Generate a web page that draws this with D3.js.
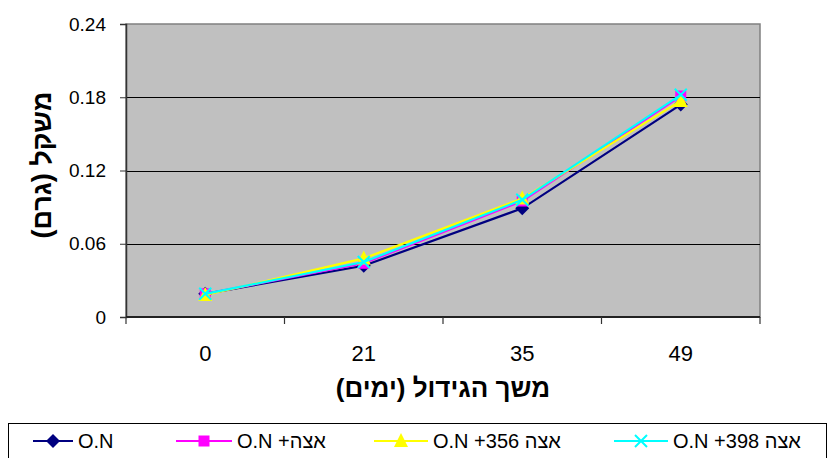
<!DOCTYPE html>
<html>
<head>
<meta charset="utf-8">
<script src="https://cdn.jsdelivr.net/npm/d3@7/dist/d3.min.js"></script>
<style>
  html, body { margin: 0; padding: 0; background: #fff; }
  svg { display: block; font-family: "Liberation Sans", Arial, sans-serif; }
</style>
</head>
<body>
<svg id="chart" width="829" height="458"></svg>
<script>
// Growth period (days) and weight (grams) per treatment
const days = ["0", "21", "35", "49"];
const seriesNames = ["O.N", "O.N +אצה", "O.N +356 אצה", "O.N +398 אצה"];
const seriesColors = ["#000080", "#FF00FF", "#FFFF00", "#00FFFF"];
const seriesMarkers = ["diamond", "square", "triangle", "cross"];
const valuesON = [0.019, 0.042, 0.089, 0.174];
const valuesSeaweed = [0.019, 0.044, 0.095, 0.181];
const valuesSeaweed356 = [0.018, 0.048, 0.097, 0.177];
const valuesSeaweed398 = [0.019, 0.045, 0.096, 0.182];
const yTicks = [0, 0.06, 0.12, 0.18, 0.24];
const yTitle = "משקל (גרם)";
const xTitle = "משך הגידול (ימים)";

const seriesValues = [valuesON, valuesSeaweed, valuesSeaweed356, valuesSeaweed398];

const svg = d3.select("#chart");
const plot = { left: 126, top: 24, right: 760, bottom: 317 };

const x = d3.scaleBand().domain(days).range([plot.left, plot.right]);
const y = d3.scaleLinear().domain([0, 0.24]).range([plot.bottom, plot.top]);

// Plot area
svg.append("rect")
  .attr("x", plot.left).attr("y", plot.top)
  .attr("width", plot.right - plot.left).attr("height", plot.bottom - plot.top)
  .attr("fill", "#C0C0C0").attr("stroke", "#808080").attr("stroke-width", 1.5);

// Horizontal gridlines
svg.append("g").selectAll("line")
  .data(yTicks.filter(t => t > 0 && t < 0.24))
  .join("line")
  .attr("x1", plot.left).attr("x2", plot.right)
  .attr("y1", d => Math.round(y(d)) + 0.5).attr("y2", d => Math.round(y(d)) + 0.5)
  .attr("stroke", "#000").attr("stroke-width", 1.2);

// Y axis
const yAxis = d3.axisLeft(y).tickValues(yTicks).tickSize(6).tickPadding(14)
  .tickFormat(d => d === 0 ? "0" : d3.format(".2f")(d));
const yg = svg.append("g").attr("transform", `translate(${plot.left},0)`).call(yAxis);
yg.attr("font-size", null).attr("font-family", null);
yg.select(".domain").attr("stroke", "#333").attr("stroke-width", 1.5);
yg.selectAll(".tick line").attr("stroke", "#333");
yg.selectAll(".tick text").attr("fill", "#000")
  .style("font-size", "19px")
  .style("font-family", "'Liberation Sans', Arial, sans-serif");

// X axis: ticks sit between categories
const xg = svg.append("g").attr("transform", `translate(0,${plot.bottom})`);
xg.append("line")
  .attr("x1", plot.left).attr("x2", plot.right)
  .attr("y1", 0).attr("y2", 0)
  .attr("stroke", "#222").attr("stroke-width", 2);
const boundaries = days.map(d => x(d)).concat([x(days[days.length - 1]) + x.bandwidth()]);
xg.selectAll("line.tk").data(boundaries).join("line").attr("class", "tk")
  .attr("x1", d => d).attr("x2", d => d).attr("y1", 0).attr("y2", 7)
  .attr("stroke", "#333").attr("stroke-width", 1.2);
xg.selectAll("text").data(days).join("text")
  .attr("x", d => x(d) + x.bandwidth() / 2)
  .attr("y", 44)
  .attr("text-anchor", "middle")
  .style("font-size", "22px")
  .text(d => d);

// Axis titles
svg.append("text")
  .attr("x", 443).attr("y", 397)
  .attr("text-anchor", "middle")
  .attr("direction", "rtl")
  .style("font-size", "26px").attr("font-weight", "bold")
  .text(xTitle);

svg.append("text")
  .attr("transform", "translate(51,165) rotate(-90)")
  .attr("text-anchor", "middle")
  .attr("direction", "rtl")
  .style("font-size", "27px").attr("font-weight", "bold")
  .text(yTitle);

// Marker drawing helper
function drawMarker(g, type, color, cx, cy) {
  if (type === "diamond") {
    g.append("path").attr("d", `M${cx},${cy - 7}L${cx + 7},${cy}L${cx},${cy + 7}L${cx - 7},${cy}Z`)
      .attr("fill", color);
  } else if (type === "square") {
    g.append("rect").attr("x", cx - 5.5).attr("y", cy - 5.5).attr("width", 11).attr("height", 11)
      .attr("fill", color);
  } else if (type === "triangle") {
    g.append("path").attr("d", `M${cx},${cy - 8}L${cx + 7},${cy + 6}L${cx - 7},${cy + 6}Z`)
      .attr("fill", color);
  } else {
    g.append("path").attr("d", `M${cx - 6},${cy - 6}L${cx + 6},${cy + 6}M${cx + 6},${cy - 6}L${cx - 6},${cy + 6}`)
      .attr("stroke", color).attr("stroke-width", 2).attr("fill", "none");
  }
}

// Series lines and markers
const line = d3.line()
  .x((d, i) => x(days[i]) + x.bandwidth() / 2)
  .y(d => y(d));

seriesValues.forEach((vals, si) => {
  const g = svg.append("g");
  g.append("path").datum(vals)
    .attr("d", line)
    .attr("fill", "none")
    .attr("stroke", seriesColors[si])
    .attr("stroke-width", 2.2);
  vals.forEach((v, i) => {
    drawMarker(g, seriesMarkers[si], seriesColors[si], x(days[i]) + x.bandwidth() / 2, y(v));
  });
});

// Legend
const legend = svg.append("g");
legend.append("rect")
  .attr("x", 8.5).attr("y", 423.5).attr("width", 818).attr("height", 40)
  .attr("fill", "#fff").attr("stroke", "#000").attr("stroke-width", 1);

const legendX = [33, 176, 374, 614];
const legendLineW = [40, 56, 54, 54];
seriesNames.forEach((name, si) => {
  const lx = legendX[si];
  const w = legendLineW[si];
  const ly = 441;
  legend.append("line")
    .attr("x1", lx).attr("x2", lx + w).attr("y1", ly).attr("y2", ly)
    .attr("stroke", seriesColors[si]).attr("stroke-width", 2.2);
  drawMarker(legend, seriesMarkers[si], seriesColors[si], lx + w / 2, ly);
  legend.append("text")
    .attr("x", lx + w + 5).attr("y", ly + 7)
    .style("font-size", "20px")
    .attr("direction", "ltr")
    .text(name);
});
</script>
</body>
</html>
